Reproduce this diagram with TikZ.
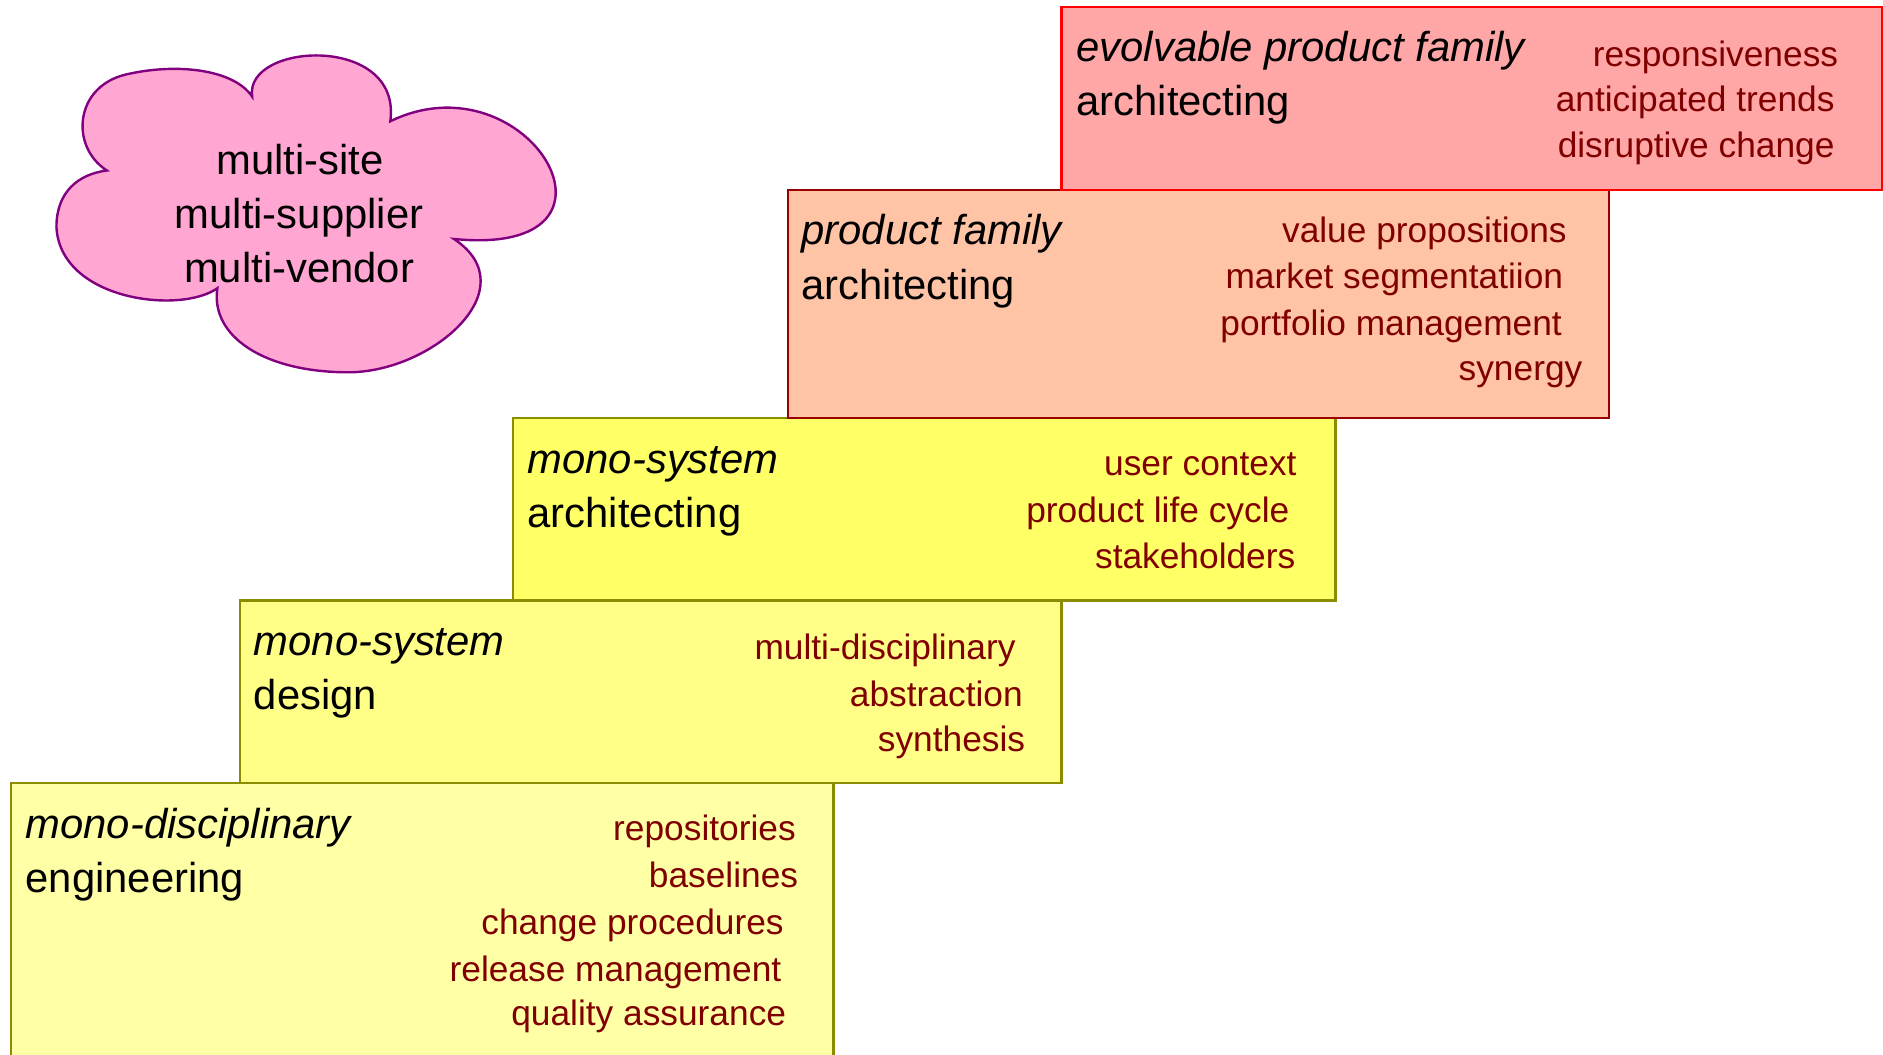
\documentclass[tikz,border=0pt]{standalone}
\usepackage{fontspec}
\setmainfont{Liberation Sans}

\definecolor{evofill}{HTML}{FFA6A6}
\definecolor{evoline}{HTML}{FF0000}
\definecolor{famfill}{HTML}{FFC4A6}
\definecolor{famline}{HTML}{990000}
\definecolor{archfill}{HTML}{FFFF66}
\definecolor{designfill}{HTML}{FFFF88}
\definecolor{engfill}{HTML}{FFFFA6}
\definecolor{stepline}{HTML}{8C8C00}
\definecolor{cloudfill}{HTML}{FFA6D2}
\definecolor{cloudline}{HTML}{800080}
\definecolor{itemred}{HTML}{800000}

\tikzset{
  stepbox/.style={line width=1pt},
  head/.style={anchor=base west, inner sep=0pt, font=\fontsize{17.4}{21}\selectfont},
  headit/.style={head, font=\fontsize{17.4}{21}\selectfont\itshape},
  item/.style={anchor=base east, inner sep=0pt, text=itemred, font=\fontsize{14.7}{18}\selectfont},
  cloudtext/.style={anchor=base, inner sep=0pt, font=\fontsize{17.4}{21}\selectfont}
}

\begin{document}
\begin{tikzpicture}[x=0.5pt, y=-0.5pt]
            \useasboundingbox (0,0) rectangle (1568,878);

            % steps, lowest first
            \filldraw[stepbox, fill=engfill, draw=stepline] (9,652) rectangle (694,900);
            \filldraw[stepbox, fill=designfill, draw=stepline] (200,500) rectangle (884,652);
            \filldraw[stepbox, fill=archfill, draw=stepline] (427,348) rectangle (1112,500);
            \filldraw[stepbox, fill=famfill, draw=famline] (656,158) rectangle (1340,348);
            \filldraw[stepbox, fill=evofill, draw=evoline] (884,6) rectangle (1567,158);

            % cloud
            \filldraw[line width=1pt, fill=cloudfill, draw=cloudline]
                (210,80.5) .. controls (203,35) and (335,28) .. (325,101)
                .. controls (440,45) and (540,215) .. (378,199)
                .. controls (440,240) and (360,310) .. (290,310)
                .. controls (220,310) and (175,280) .. (181,240)
                .. controls (150,262) and (50,250) .. (47,189)
                .. controls (47,160) and (65,145) .. (89,142)
                .. controls (58,122) and (62,72) .. (105,62)
                .. controls (148,52) and (195,58) .. (210,80.5) -- cycle;
            \node[cloudtext] (site) at (250,145) {multi-site};
            \node[cloudtext] (supplier) at (249,190) {multi-supplier};
            \node[cloudtext] (vendor) at (249,235) {multi-vendor};

            % evolvable product family
            \node[headit] (evohead) at (896,51) {evolvable product family};
            \node[head] (evoarch) at (896,96) {architecting};
            \node[item] (respons) at (1531,55) {responsiveness};
            \node[item] (trends) at (1528,93) {anticipated trends};
            \node[item] (disrupt) at (1528,131) {disruptive change};

            % product family
            \node[headit] (famhead) at (667,204) {product family};
            \node[head] (famarch) at (667,249) {architecting};
            \node[item] (value) at (1305,202) {value propositions};
            \node[item] (market) at (1302,240) {market segmentatiion};
            \node[item] (portfolio) at (1301,279) {portfolio management};
            \node[item] (synergy) at (1318,317) {synergy};

            % mono-system architecting
            \node[headit] (archhead) at (439,394) {mono-system};
            \node[head] (archarch) at (439,439) {architecting};
            \node[item] (user) at (1080,396) {user context};
            \node[item] (life) at (1074,435) {product life cycle};
            \node[item] (stake) at (1079,473) {stakeholders};

            % mono-system design
            \node[headit] (deshead) at (211,546) {mono-system};
            \node[head] (design) at (211,591) {design};
            \node[item] (multidisc) at (846,549) {multi-disciplinary};
            \node[item] (abstract) at (852,588) {abstraction};
            \node[item] (synth) at (854,626) {synthesis};

            % mono-disciplinary engineering
            \node[headit] (enghead) at (21,698) {mono-disciplinary};
            \node[head] (eng) at (21,743) {engineering};
            \node[item] (repos) at (663,700) {repositories};
            \node[item] (base) at (665,739) {baselines};
            \node[item] (change) at (653,778) {change procedures};
            \node[item] (release) at (651,817) {release management};
            \node[item] (quality) at (655,854) {quality assurance};
        \end{tikzpicture}
\end{document}
